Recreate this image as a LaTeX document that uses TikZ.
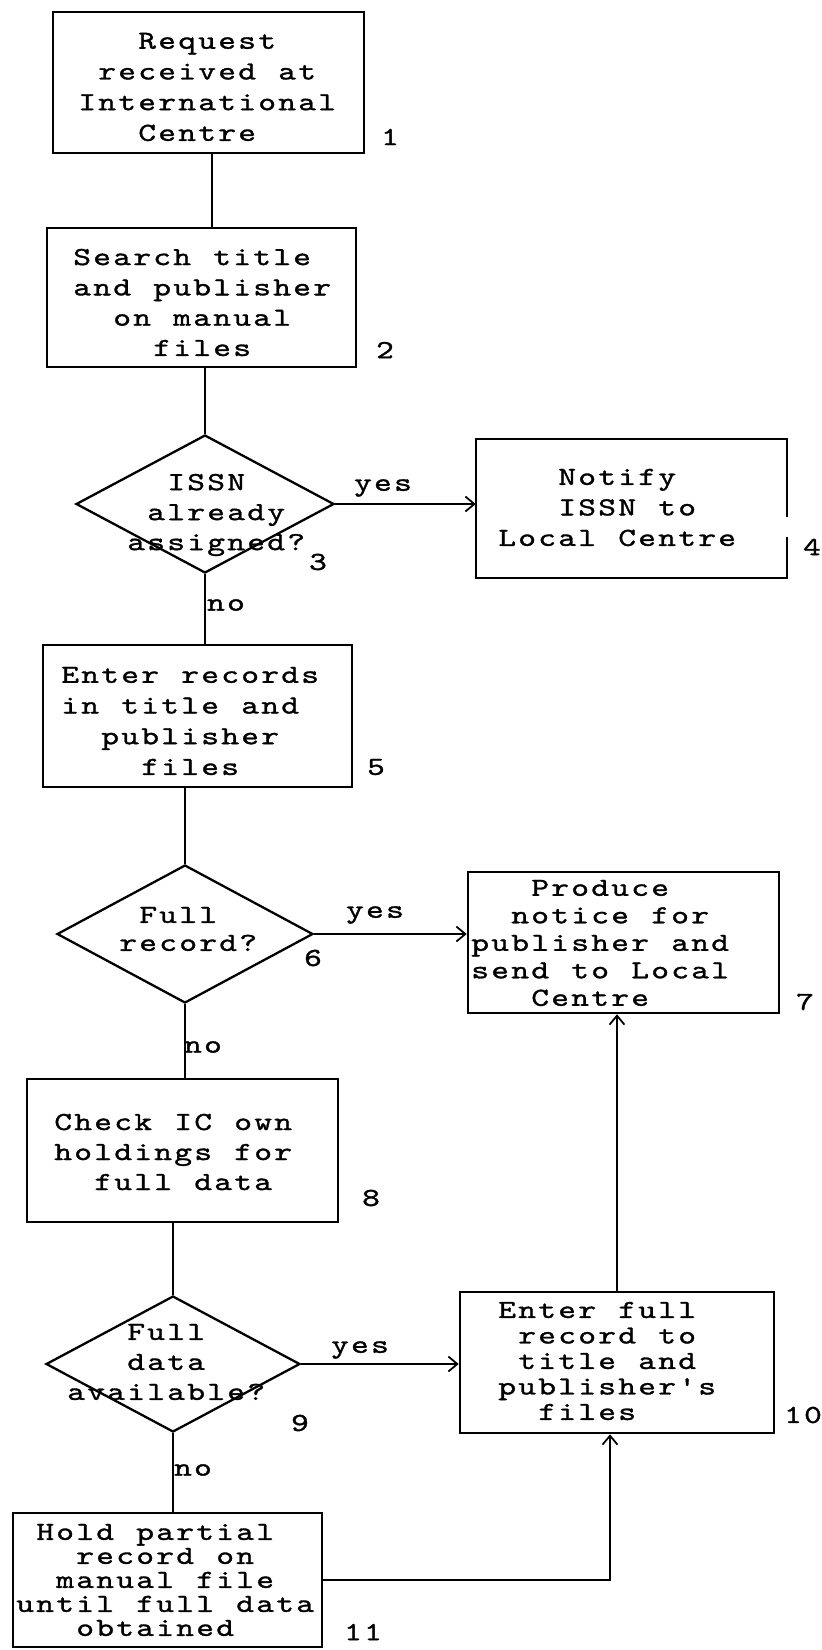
\documentclass[tikz,border=0pt]{standalone}
\usepackage{fontspec}
\setmonofont{lmmono10-regular.otf}[FakeStretch=1.3,FakeBold=1.2]
\usetikzlibrary{arrows.meta,calc,shapes.geometric}
% fixed typewriter pitch: every character sits in a box of width \cw
\newlength\cw
\setlength\cw{20pt}
\ExplSyntaxOn
\NewDocumentCommand\typed{O{0}m}{\hspace*{#1\cw}\str_map_inline:nn{#2}{\makebox[\cw]{##1}}}
\ExplSyntaxOff
\begin{document}
\begin{tikzpicture}[x=1pt,y=-1pt,
  box/.style={draw, line width=2.5pt, rectangle, inner sep=0pt},
  plainbox/.style={rectangle, inner sep=0pt},
  boxline/.style={line width=2.5pt},
  dec/.style={draw, line width=2.3pt, diamond, inner sep=0pt},
  txt/.style={font=\ttfamily\fontsize{26}{#1}\selectfont, align=left, inner sep=0pt, anchor=west},
  txt/.default=30.5,
  num/.style={font=\ttfamily\fontsize{26}{30}\selectfont, inner sep=0pt},
  conn/.style={line width=2.2pt},
  arr/.style={conn, -{Straight Barb[length=9pt,width=15pt,line width=1.8pt]}}
]
\fill[white] (0,0) rectangle (822,1650);
\useasboundingbox (0,0) rectangle (822,1650);

% process boxes and decisions
\node[box, minimum width=311, minimum height=141] (b1) at (208.5,82.5) {};
\node[box, minimum width=309, minimum height=139] (b2) at (201.5,297.5) {};
\node[dec, minimum width=258, minimum height=138] (d3) at (205,504) {};
\node[plainbox, minimum width=311, minimum height=139] (b4) at (631.5,508.5) {};
\node[box, minimum width=309, minimum height=142] (b5) at (197.5,716) {};
\node[dec, minimum width=256, minimum height=138] (d6) at (185,934) {};
\node[box, minimum width=311, minimum height=141] (b7) at (623.5,942.5) {};
\node[box, minimum width=311, minimum height=143] (b8) at (182.5,1150.5) {};
\node[dec, minimum width=254, minimum height=136] (d9) at (173,1364) {};
\node[box, minimum width=314, minimum height=141] (b10) at (617,1362.5) {};
\node[box, minimum width=309, minimum height=134] (b11) at (167.5,1580) {};

% box 4 has a break in its right side
\draw[boxline] ($(b4.east)+(0,8.5)$) -- (b4.north east) -- (b4.north west)
  -- (b4.south west) -- (b4.south east) -- ($(b4.east)+(0,28.5)$);

% texts
\node[txt=30.7] (t1) at (77,87) {\typed[3]{Request}\\\typed[1]{received at}\\\typed{International}\\\typed[3]{Centre}};
\node[txt=30.3] (t2) at (72,302.5) {\typed{Search title}\\\typed{and publisher}\\\typed[2]{on manual}\\\typed[4]{files}};
\node[txt=30] (t3) at (126,515) {\typed[2]{ISSN}\\\typed[1]{already}\\\typed{assigned?}};
\node[txt=30.5] (t4) at (497,507.5) {\typed[3]{Notify}\\\typed[3]{ISSN to}\\\typed{Local Centre}};
\node[txt=30.7] (t5) at (60,721) {\typed{Enter records}\\\typed{in title and}\\\typed[2]{publisher}\\\typed[4]{files}};
\node[txt=28] (t6) at (118,929) {\typed[1]{Full}\\\typed{record?}};
\node[txt=27.5] (t7) at (470,943) {\typed[3]{Produce}\\\typed[2]{notice for}\\\typed{publisher and}\\\typed{send to Local}\\\typed[3]{Centre}};
\node[txt=30] (t8) at (53,1152) {\typed{Check IC own}\\\typed{holdings for}\\\typed[2]{full data}};
\node[txt=30] (t9) at (66,1362) {\typed[3]{Full}\\\typed[3]{data}\\\typed{available?}};
\node[txt=25.5] (t10) at (497,1361) {\typed{Enter full}\\\typed[1]{record to}\\\typed[1]{title and}\\\typed{publisher's}\\\typed[2]{files}};
\node[txt=24] (t11) at (15,1580) {\typed[1]{Hold partial}\\\typed[3]{record on}\\\typed[2]{manual file}\\\typed{until full data}\\\typed[3]{obtained}};

% step numbers
\node[num] (n1) at (390,137) {\typed{1}};
\node[num] (n2) at (385,350) {\typed{2}};
\node[num] (n3) at (318,562) {\typed{3}};
\node[num] (n4) at (812,547) {\typed{4}};
\node[num] (n5) at (376,767) {\typed{5}};
\node[num] (n6) at (313,958) {\typed{6}};
\node[num] (n7) at (805,1002) {\typed{7}};
\node[num] (n8) at (371,1198) {\typed{8}};
\node[num] (n9) at (300,1423) {\typed{9}};
\node[num] (n10) at (803,1415) {\typed{10}};
\node[num] (n11) at (363,1632) {\typed{11}};

% connectors
\draw[conn] ([xshift=3.5pt]b1.south) -- ([xshift=3.5pt]b1.south |- b2.north);
\draw[conn] (d3.north |- b2.south) -- (d3.north);
\draw[arr] (d3.east) -- (d3.east -| b4.west);
\draw[conn] (d3.south) -- (d3.south |- b5.north);
\draw[conn] (d6.north |- b5.south) -- (d6.north);
\draw[arr] (d6.east) -- (d6.east -| b7.west);
\draw[conn] (d6.south) -- (d6.south |- b8.north);
\draw[conn] (d9.north |- b8.south) -- (d9.north);
\draw[arr] (d9.east) -- (d9.east -| b10.west);
\draw[conn] (d9.south) -- (d9.south |- b11.north);
\draw[arr] (b10.north) -- (b10.north |- b7.south);
\draw[arr] (b11.east) -| ([xshift=-7pt]b10.south);

% branch labels
\node[num] (y3) at (383,488) {\typed{yes}};
\node[num] (o3) at (226,605) {\typed{no}};
\node[num] (y6) at (375,915) {\typed{yes}};
\node[num] (o6) at (203,1047) {\typed{no}};
\node[num] (y9) at (360,1350) {\typed{yes}};
\node[num] (o9) at (193,1470) {\typed{no}};
\end{tikzpicture}
\end{document}
